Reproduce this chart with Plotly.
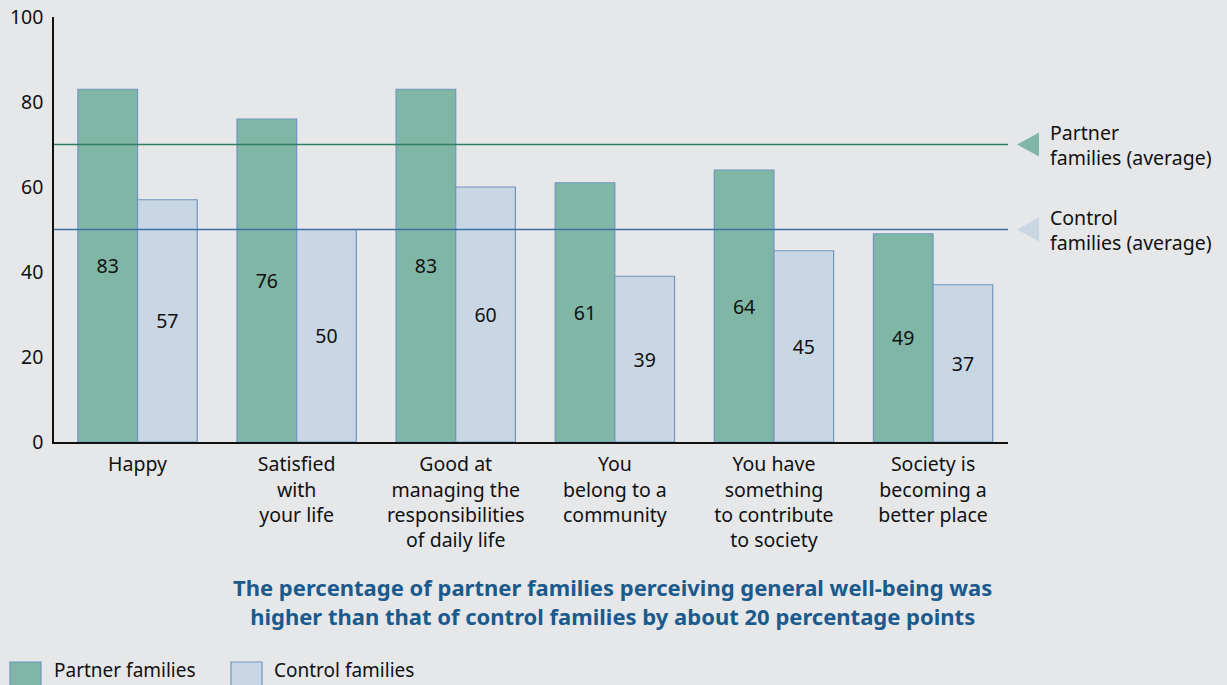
import plotly.graph_objects as go

categories = [
    "Happy",
    "Satisfied<br>with<br>your life",
    "Good at<br>managing the<br>responsibilities<br>of daily life",
    "You<br>belong to a<br>community",
    "You have<br>something<br>to contribute<br>to society",
    "Society is<br>becoming a<br>better place",
]
partner = [83, 76, 83, 61, 64, 49]
control = [57, 50, 60, 39, 45, 37]
partner_avg = 70
control_avg = 50
y_ticks = [0, 20, 40, 60, 80, 100]

FONT = "Noto Sans"
FS = 19.5
BG = "#e6e7e9"
PARTNER_FILL = "#80b6a6"
CONTROL_FILL = "#c9d7e4"
EDGE = "#6f96c0"
PARTNER_LINE = "#2f7f60"
CONTROL_LINE = "#3d70a8"
TXT = "#111111"

W, H = 1227, 685
L, R, T, B = 54, 219, 17, 243
plot_w = W - L - R
plot_h = H - T - B

def px_x(p):
    return (p - L) / plot_w

def px_y(p):
    return (H - B - p) / plot_h

fig = go.Figure()
for vals, name, fill in [(partner, "Partner families", PARTNER_FILL),
                         (control, "Control families", CONTROL_FILL)]:
    fig.add_trace(go.Bar(
        x=categories, y=vals, name=name,
        marker=dict(color=fill, line=dict(color=EDGE, width=1.2)),
        text=[str(v) for v in vals], textposition="inside",
        insidetextanchor="middle", textangle=0,
        textfont=dict(color=TXT, size=FS, family=FONT),
        showlegend=False,
    ))

shapes = [
    dict(type="line", xref="paper", yref="y", x0=0, x1=1, y0=partner_avg, y1=partner_avg,
         line=dict(color=PARTNER_LINE, width=1.3), layer="above"),
    dict(type="line", xref="paper", yref="y", x0=0, x1=1, y0=control_avg, y1=control_avg,
         line=dict(color=CONTROL_LINE, width=1.3), layer="above"),
]

tip = px_x(1017)
base = px_x(1039)
half = 12 / (plot_h / 100)
for val, col in [(partner_avg, PARTNER_FILL), (control_avg, CONTROL_FILL)]:
    shapes.append(dict(
        type="path", xref="paper", yref="y",
        path=f"M {tip},{val} L {base},{val + half} L {base},{val - half} Z",
        fillcolor=col, line=dict(width=0),
    ))

# legend swatches
for x0, col in [(10, PARTNER_FILL), (231, CONTROL_FILL)]:
    shapes.append(dict(
        type="rect", xref="paper", yref="paper",
        x0=px_x(x0), x1=px_x(x0 + 31), y0=px_y(662), y1=px_y(690),
        fillcolor=col, line=dict(color=EDGE, width=1.2),
    ))

annotations = [
    dict(xref="paper", yref="y", x=px_x(1048), y=partner_avg, xanchor="left", yanchor="middle",
         text="Partner<br>families (average)", showarrow=False, align="left",
         font=dict(size=FS, family=FONT, color=TXT)),
    dict(xref="paper", yref="y", x=px_x(1048), y=control_avg, xanchor="left", yanchor="middle",
         text="Control<br>families (average)", showarrow=False, align="left",
         font=dict(size=FS, family=FONT, color=TXT)),
    dict(xref="paper", yref="paper", x=px_x(612), y=px_y(601), xanchor="center", yanchor="middle",
         text="<b>The percentage of partner families perceiving general well-being was<br>higher than that of control families by about 20 percentage points</b>",
         showarrow=False, align="center",
         font=dict(size=22, family=FONT, color="#1b5a8c")),
    dict(xref="paper", yref="paper", x=px_x(52), y=px_y(670), xanchor="left", yanchor="middle",
         text="Partner families", showarrow=False,
         font=dict(size=19, family=FONT, color=TXT)),
    dict(xref="paper", yref="paper", x=px_x(272), y=px_y(670), xanchor="left", yanchor="middle",
         text="Control families", showarrow=False,
         font=dict(size=19, family=FONT, color=TXT)),
]

fig.update_layout(
    width=W, height=H,
    margin=dict(l=L, r=R, t=T, b=B, pad=0, autoexpand=False),
    paper_bgcolor=BG, plot_bgcolor=BG,
    barmode="group", bargap=0.25, bargroupgap=0,
    font=dict(family=FONT, size=FS, color=TXT),
    shapes=shapes, annotations=annotations,
    showlegend=False,
    uniformtext=dict(mode="show", minsize=10),
)
fig.update_xaxes(
    range=[-0.525, 5.471],
    showline=True, linecolor=TXT, linewidth=1.5, ticks="", showgrid=False,
    automargin=False, ticklabelstandoff=4,
    tickfont=dict(size=FS, family=FONT, color=TXT), fixedrange=True,
)
fig.update_yaxes(
    range=[0, 100], tickvals=y_ticks, showline=True, linecolor=TXT, linewidth=1.5,
    ticks="", showgrid=False, zeroline=False, ticklabelstandoff=5, automargin=False,
    tickfont=dict(size=FS, family=FONT, color=TXT),
)

fig.write_html(
    "out.html",
    config={"displayModeBar": False},
    post_script="document.body.style.margin='0';document.body.style.overflow='hidden';",
)
